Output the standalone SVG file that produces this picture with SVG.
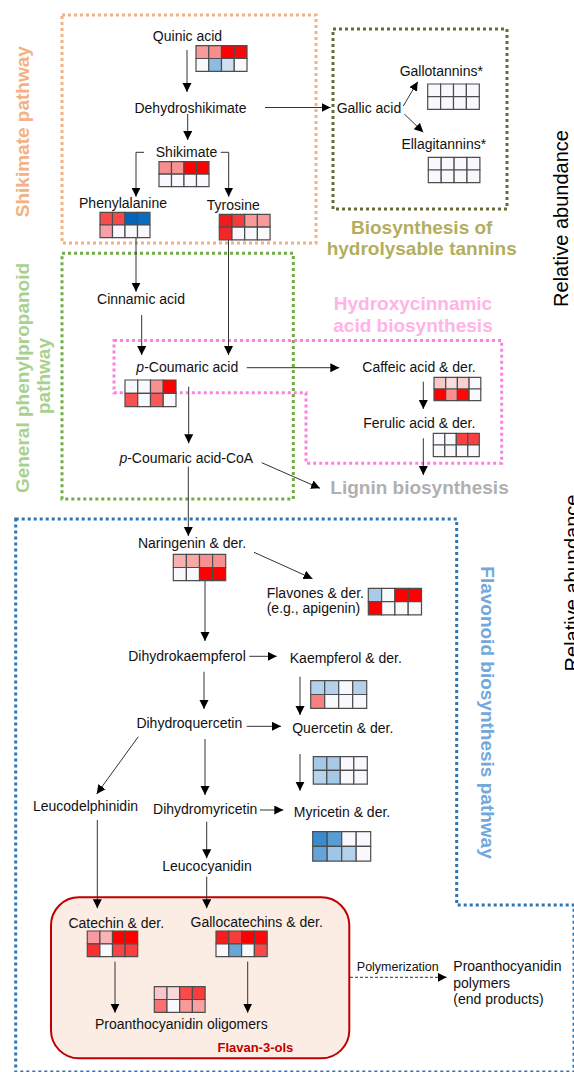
<svg xmlns="http://www.w3.org/2000/svg" width="574" height="1072" viewBox="0 0 574 1072">
<style>
.t{font-family:"Liberation Sans",Arial,sans-serif;font-size:14px;fill:#111}
.tl{font-family:"Liberation Sans",Arial,sans-serif;font-weight:bold;font-size:19px}
.hm rect{stroke:#4d4d4d;stroke-width:1.2;vector-effect:non-scaling-stroke;width:1px;height:1px}
.w{fill:#f9f9fd}
.c path{stroke:#333;stroke-width:1;fill:none;marker-end:url(#ah)}
.box{fill:none;stroke-width:3;stroke-dasharray:3 3}
</style>
<defs>
<marker id="ah" markerUnits="userSpaceOnUse" markerWidth="10" markerHeight="10" refX="9" refY="4.5" orient="auto">
<path d="M0,0 L9,4.5 L0,9 Z" fill="#000"/>
</marker>
</defs>
<rect width="574" height="1072" fill="#fff"/>

<g id="pathway-boxes">
<rect class="box" x="62" y="15" width="254" height="228" stroke="#f4b183"/>
<rect class="box" x="333" y="29" width="174" height="180" stroke="#6b6b38"/>
<rect class="box" x="62" y="253.3" width="231.3" height="245.7" stroke="#70ad47"/>
<path class="box" d="M114,340.5 H501.7 V463.3 H306 V392.7 H114 Z" stroke="#ff80de"/>
<path class="box" d="M15.7,519 H456.7 V905 H574 V1072 H15.7 Z" stroke="#2e75b6"/>
<rect id="flavan-3-ols-box" x="51" y="897.3" width="298.3" height="161" rx="28" fill="#fcede4" stroke="#c00000" stroke-width="2"/>
</g>

<g id="pathway-labels">
<text class="tl" fill="#f4b183" text-anchor="middle" transform="translate(29,131.7) rotate(-90)">Shikimate pathway</text>
<text class="tl" fill="#b3ae5e" text-anchor="middle" x="421.7" y="233.6">Biosynthesis of</text>
<text class="tl" fill="#b3ae5e" text-anchor="middle" x="421.7" y="255">hydrolysable tannins</text>
<text class="tl" fill="#a9d18e" text-anchor="middle" transform="translate(29,378) rotate(-90)">General phenylpropanoid</text>
<text class="tl" fill="#a9d18e" text-anchor="middle" transform="translate(50,376) rotate(-90)">pathway</text>
<text class="tl" fill="#ffb3e6" text-anchor="middle" x="413" y="310.3">Hydroxycinnamic</text>
<text class="tl" fill="#ffb3e6" text-anchor="middle" x="413" y="332">acid biosynthesis</text>
<text class="tl" fill="#b0b0b0" text-anchor="middle" x="419.5" y="493.6">Lignin biosynthesis</text>
<text class="tl" fill="#72a8dc" text-anchor="middle" transform="translate(480.5,712.5) rotate(90)">Flavonoid biosynthesis pathway</text>
<text font-family="Liberation Sans,Arial,sans-serif" font-weight="bold" font-size="13" fill="#c00000" text-anchor="end" x="293.3" y="1052">Flavan-3-ols</text>
<text font-family="Liberation Sans,Arial,sans-serif" font-size="20" fill="#000" text-anchor="middle" transform="translate(567.6,218.5) rotate(-90)">Relative abundance</text>
<text font-family="Liberation Sans,Arial,sans-serif" font-size="20" fill="#000" text-anchor="middle" transform="translate(578.6,583) rotate(-90)">Relative abundance</text>
</g>

<g id="connectors" class="c">
<path d="M187,50 V92"/>
<path d="M265,107.5 H330.5"/>
<path d="M403.3,106 L417.7,81.7"/>
<path d="M404.3,114 L423.3,132.3"/>
<path d="M187.7,114 V140"/>
<path d="M144,152.3 H136 V196.7"/>
<path d="M220.7,152.3 H228.7 V196.7"/>
<path d="M136,238 V291.7"/>
<path d="M228.5,240 V355"/>
<path d="M141.7,315 V355"/>
<path d="M188.7,386.7 V443.3"/>
<path d="M246.7,367.7 H339.3"/>
<path d="M423.3,381.7 V409"/>
<path d="M423.3,438.3 V475"/>
<path d="M261.7,462.7 L320,488.3"/>
<path d="M188.3,466.7 V536"/>
<path d="M254,552.3 L312.5,578.7"/>
<path d="M205,580.7 V641"/>
<path d="M249.3,656.3 H276.7"/>
<path d="M300,676.7 V715"/>
<path d="M204,671.7 V709"/>
<path d="M246.7,726.3 H281"/>
<path d="M300,754 V790.7"/>
<path d="M138.3,736.7 L96.7,794"/>
<path d="M205,739 V795"/>
<path d="M260,810 H283.3"/>
<path d="M206.7,821.7 V858.3"/>
<path d="M206.7,876.7 V908.3"/>
<path d="M97.3,820 V908.3"/>
<path d="M115,961.7 V1012.7"/>
<path d="M247.7,961.7 V1012.7"/>
<path d="M350,977.3 H446.7" stroke-dasharray="3 2"/>
</g>
<text id="polymerization-label" font-family="Liberation Sans,Arial,sans-serif" font-size="12.5" fill="#111" text-anchor="middle" x="397.8" y="970.7">Polymerization</text>

<g id="quinic-acid">
<text class="t" text-anchor="middle" x="187.5" y="41">Quinic acid</text>
<g class="hm" transform="translate(196,45.7) scale(12.75,12.8)">
<rect x="0" y="0" fill="#f99a9a"/><rect x="1" y="0" fill="#f98c8c"/><rect x="2" y="0" fill="#ff0000"/><rect x="3" y="0" fill="#f80808"/>
<rect x="0" y="1" class="w"/><rect x="1" y="1" fill="#8cbce2"/><rect x="2" y="1" fill="#cfe0f2"/><rect x="3" y="1" class="w"/>
</g>
</g>

<g id="dehydroshikimate">
<text class="t" text-anchor="middle" x="190.5" y="113">Dehydroshikimate</text>
</g>

<g id="gallic-acid">
<text class="t" x="336.7" y="113">Gallic acid</text>
</g>

<g id="gallotannins">
<text class="t" text-anchor="middle" x="441.3" y="75.7">Gallotannins*</text>
<g class="hm" transform="translate(427.7,84) scale(12.9,12.65)">
<rect x="0" y="0" class="w"/><rect x="1" y="0" class="w"/><rect x="2" y="0" class="w"/><rect x="3" y="0" class="w"/>
<rect x="0" y="1" class="w"/><rect x="1" y="1" class="w"/><rect x="2" y="1" class="w"/><rect x="3" y="1" class="w"/>
</g>
</g>

<g id="ellagitannins">
<text class="t" text-anchor="middle" x="443.8" y="149.3">Ellagitannins*</text>
<g class="hm" transform="translate(428.3,157.3) scale(12.9,12.7)">
<rect x="0" y="0" class="w"/><rect x="1" y="0" class="w"/><rect x="2" y="0" class="w"/><rect x="3" y="0" class="w"/>
<rect x="0" y="1" class="w"/><rect x="1" y="1" class="w"/><rect x="2" y="1" class="w"/><rect x="3" y="1" class="w"/>
</g>
</g>

<g id="shikimate">
<text class="t" text-anchor="middle" x="186.5" y="156.7">Shikimate</text>
<g class="hm" transform="translate(159,161.7) scale(12.5,12.5)">
<rect x="0" y="0" fill="#f98c8c"/><rect x="1" y="0" fill="#f99494"/><rect x="2" y="0" fill="#ff0000"/><rect x="3" y="0" fill="#ff0000"/>
<rect x="0" y="1" class="w"/><rect x="1" y="1" class="w"/><rect x="2" y="1" class="w"/><rect x="3" y="1" class="w"/>
</g>
</g>

<g id="phenylalanine">
<text class="t" text-anchor="middle" x="123" y="208">Phenylalanine</text>
<g class="hm" transform="translate(100,212.3) scale(12.5,12.7)">
<rect x="0" y="0" fill="#f84c4c"/><rect x="1" y="0" fill="#f84848"/><rect x="2" y="0" fill="#0066bb"/><rect x="3" y="0" fill="#0a6cbf"/>
<rect x="0" y="1" fill="#f8a0a8"/><rect x="1" y="1" class="w"/><rect x="2" y="1" class="w"/><rect x="3" y="1" class="w"/>
</g>
</g>

<g id="tyrosine">
<text class="t" text-anchor="middle" x="233.3" y="210">Tyrosine</text>
<g class="hm" transform="translate(219.3,214.3) scale(12.7,12.8)">
<rect x="0" y="0" fill="#f01c1c"/><rect x="1" y="0" fill="#f53c3c"/><rect x="2" y="0" fill="#f99a9a"/><rect x="3" y="0" fill="#f99a9a"/>
<rect x="0" y="1" fill="#f02828"/><rect x="1" y="1" class="w"/><rect x="2" y="1" class="w"/><rect x="3" y="1" class="w"/>
</g>
</g>

<g id="cinnamic-acid">
<text class="t" text-anchor="middle" x="141" y="304.3">Cinnamic acid</text>
</g>

<g id="p-coumaric-acid">
<text class="t" text-anchor="middle" x="187.3" y="371.7"><tspan font-style="italic">p</tspan>-Coumaric acid</text>
<g class="hm" transform="translate(125,380) scale(12.75,13.3)">
<rect x="0" y="0" class="w"/><rect x="1" y="0" class="w"/><rect x="2" y="0" fill="#f99090"/><rect x="3" y="0" fill="#ff0000"/>
<rect x="0" y="1" fill="#f85050"/><rect x="1" y="1" class="w"/><rect x="2" y="1" fill="#f85858"/><rect x="3" y="1" class="w"/>
</g>
</g>

<g id="p-coumaric-acid-coa">
<text class="t" text-anchor="middle" x="186.3" y="463.3"><tspan font-style="italic">p</tspan>-Coumaric acid-CoA</text>
</g>

<g id="caffeic-acid">
<text class="t" text-anchor="middle" x="419" y="371.7">Caffeic acid &amp; der.</text>
<g class="hm" transform="translate(434,377.3) scale(11.7,11.7)">
<rect x="0" y="0" fill="#f9c8c8"/><rect x="1" y="0" fill="#f9dcdc"/><rect x="2" y="0" fill="#f9d0d0"/><rect x="3" y="0" class="w"/>
<rect x="0" y="1" fill="#ff0000"/><rect x="1" y="1" fill="#f99090"/><rect x="2" y="1" fill="#ff0808"/><rect x="3" y="1" class="w"/>
</g>
</g>

<g id="ferulic-acid">
<text class="t" text-anchor="middle" x="419.3" y="428.3">Ferulic acid &amp; der.</text>
<g class="hm" transform="translate(433.3,433.3) scale(11.5,11.7)">
<rect x="0" y="0" class="w"/><rect x="1" y="0" class="w"/><rect x="2" y="0" fill="#f84040"/><rect x="3" y="0" fill="#f84040"/>
<rect x="0" y="1" class="w"/><rect x="1" y="1" class="w"/><rect x="2" y="1" class="w"/><rect x="3" y="1" class="w"/>
</g>
</g>

<g id="naringenin">
<text class="t" text-anchor="middle" x="192" y="548.3">Naringenin &amp; der.</text>
<g class="hm" transform="translate(173.3,554.3) scale(13.1,13.2)">
<rect x="0" y="0" fill="#f9b0b0"/><rect x="1" y="0" fill="#f9a8a8"/><rect x="2" y="0" fill="#f99090"/><rect x="3" y="0" fill="#f99090"/>
<rect x="0" y="1" class="w"/><rect x="1" y="1" class="w"/><rect x="2" y="1" fill="#ff0000"/><rect x="3" y="1" fill="#ff0000"/>
</g>
</g>

<g id="flavones">
<text class="t" x="266.7" y="598.3">Flavones &amp; der.</text>
<text class="t" x="266.7" y="613">(e.g., apigenin)</text>
<g class="hm" transform="translate(368.3,588.3) scale(13.3,13.3)">
<rect x="0" y="0" fill="#a8cce8"/><rect x="1" y="0" class="w"/><rect x="2" y="0" fill="#ff0000"/><rect x="3" y="0" fill="#ff0000"/>
<rect x="0" y="1" fill="#ff0000"/><rect x="1" y="1" class="w"/><rect x="2" y="1" class="w"/><rect x="3" y="1" class="w"/>
</g>
</g>

<g id="dihydrokaempferol">
<text class="t" text-anchor="middle" x="187" y="660.7">Dihydrokaempferol</text>
</g>

<g id="kaempferol">
<text class="t" text-anchor="middle" x="345.8" y="663.3">Kaempferol &amp; der.</text>
<g class="hm" transform="translate(310.7,680.7) scale(14,13.8)">
<rect x="0" y="0" fill="#b4d0ea"/><rect x="1" y="0" fill="#b4d0ea"/><rect x="2" y="0" class="w"/><rect x="3" y="0" fill="#b4d0ea"/>
<rect x="0" y="1" fill="#f88080"/><rect x="1" y="1" class="w"/><rect x="2" y="1" class="w"/><rect x="3" y="1" class="w"/>
</g>
</g>

<g id="dihydroquercetin">
<text class="t" text-anchor="middle" x="189.3" y="728.3">Dihydroquercetin</text>
</g>

<g id="quercetin">
<text class="t" text-anchor="middle" x="342.8" y="733.3">Quercetin &amp; der.</text>
<g class="hm" transform="translate(313.3,756.7) scale(13.5,13.7)">
<rect x="0" y="0" fill="#a4c8e8"/><rect x="1" y="0" fill="#a8cae8"/><rect x="2" y="0" class="w"/><rect x="3" y="0" class="w"/>
<rect x="0" y="1" fill="#b8d4ec"/><rect x="1" y="1" fill="#a4c8e8"/><rect x="2" y="1" class="w"/><rect x="3" y="1" class="w"/>
</g>
</g>

<g id="leucodelphinidin">
<text class="t" text-anchor="middle" x="85.5" y="810.7">Leucodelphinidin</text>
</g>

<g id="dihydromyricetin">
<text class="t" text-anchor="middle" x="205.2" y="814">Dihydromyricetin</text>
</g>

<g id="myricetin">
<text class="t" text-anchor="middle" x="342" y="816.7">Myricetin &amp; der.</text>
<g class="hm" transform="translate(312.7,831.7) scale(14.5,14.7)">
<rect x="0" y="0" fill="#3a8ad0"/><rect x="1" y="0" fill="#5a9cd4"/><rect x="2" y="0" class="w"/><rect x="3" y="0" class="w"/>
<rect x="0" y="1" fill="#64a4d8"/><rect x="1" y="1" fill="#9ec6e6"/><rect x="2" y="1" fill="#b4d2ec"/><rect x="3" y="1" class="w"/>
</g>
</g>

<g id="leucocyanidin">
<text class="t" text-anchor="middle" x="207" y="870.7">Leucocyanidin</text>
</g>

<g id="catechin">
<text class="t" text-anchor="middle" x="116.3" y="928.3">Catechin &amp; der.</text>
<g class="hm" transform="translate(87.3,931) scale(12.6,12.8)">
<rect x="0" y="0" fill="#f99aa0"/><rect x="1" y="0" fill="#f9b4b8"/><rect x="2" y="0" fill="#ff0000"/><rect x="3" y="0" fill="#ff0000"/>
<rect x="0" y="1" fill="#f83030"/><rect x="1" y="1" class="w"/><rect x="2" y="1" fill="#f84444"/><rect x="3" y="1" fill="#f84040"/>
</g>
</g>

<g id="gallocatechins">
<text class="t" text-anchor="middle" x="256.7" y="926.7">Gallocatechins &amp; der.</text>
<g class="hm" transform="translate(216,931) scale(12.8,12.8)">
<rect x="0" y="0" fill="#f81c1c"/><rect x="1" y="0" fill="#f83c3c"/><rect x="2" y="0" fill="#ff0000"/><rect x="3" y="0" fill="#ff0808"/>
<rect x="0" y="1" class="w"/><rect x="1" y="1" fill="#64a8d8"/><rect x="2" y="1" class="w"/><rect x="3" y="1" fill="#f84848"/>
</g>
</g>

<g id="proanthocyanidin-oligomers">
<g class="hm" transform="translate(154.3,986.7) scale(12.7,12.8)">
<rect x="0" y="0" fill="#f9c4cc"/><rect x="1" y="0" fill="#f9d8dc"/><rect x="2" y="0" fill="#f84c4c"/><rect x="3" y="0" fill="#f83c3c"/>
<rect x="0" y="1" fill="#f87070"/><rect x="1" y="1" class="w"/><rect x="2" y="1" fill="#f99a9a"/><rect x="3" y="1" fill="#f9a0a0"/>
</g>
<text class="t" text-anchor="middle" x="181.3" y="1029.3">Proanthocyanidin oligomers</text>
</g>

<g id="proanthocyanidin-polymers">
<text class="t" x="453.3" y="971">Proanthocyanidin</text>
<text class="t" x="453.3" y="987.5">polymers</text>
<text class="t" x="453.3" y="1004">(end products)</text>
</g>
</svg>
